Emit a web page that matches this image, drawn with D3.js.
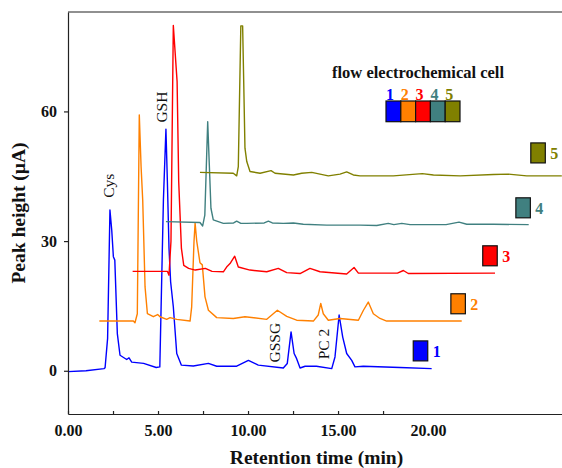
<!DOCTYPE html>
<html>
<head>
<meta charset="utf-8">
<script src="https://cdn.jsdelivr.net/npm/d3@7"></script>
<style>
    html, body { margin: 0; padding: 0; background: #fff; }
    svg { display: block; font-family: "Liberation Serif", "Times New Roman", serif; }
</style>
</head>
<body>
<div id="chart"></div>
<script>
// chromatograms as [retention time (min), peak height (µA)], as plotted (offset per cell)
const cell1 = [[0, -0.2], [1.0, 0.0], [2.0, 0.5], [2.06, 0.7], [2.2, 7.5], [2.33, 37.2], [2.43, 32.5], [2.52, 26.4],
    [2.6, 25.6], [2.74, 8.6], [2.89, 3.6], [3.26, 2.6], [3.39, 3.0], [3.54, 2.0], [4.2, 1.7], [4.9, 0.75], [5.1, 0.9],
    [5.3, 39.5], [5.44, 55.9], [5.52, 43.8], [5.61, 28.4], [5.7, 20.6], [5.85, 14.8], [6.04, 4], [6.3, 1.3], [6.96, 1.1],
    [7.8, 1.7], [8.26, 1.05], [9.37, 1.05], [10.02, 2.4], [10.57, 1.3], [11.96, 0.65], [12.18, 1.7], [12.39, 9.0],
    [12.56, 4.0], [12.7, 2.8], [12.89, 0.65], [13.17, 1.05], [13.8, 1.05], [14.65, 0.5], [14.83, 3.2], [15.06, 12.9],
    [15.26, 7.8], [15.48, 4.0], [15.76, 2.4], [15.94, 0.9], [16.4, 1.05], [18.44, 0.75], [20.2, 0.5]];

const cell2 = [[1.74, 11.5], [3.63, 11.5], [3.72, 11.1], [3.85, 13.2], [3.96, 59.2], [4.06, 47.2], [4.15, 39.5],
    [4.28, 19.4], [4.41, 13.2], [4.74, 12.5], [4.98, 13.0], [5.11, 12.5], [5.48, 11.9], [5.67, 12.3], [6.04, 11.9],
    [6.78, 11.5], [6.87, 14.8], [7.0, 30], [7.06, 34.2], [7.15, 30], [7.33, 25.0], [7.46, 24.5], [7.61, 17.1], [7.8, 14],
    [8.26, 12.3], [9.18, 12.1], [9.83, 12.5], [11.04, 11.9], [11.63, 14.0], [12.15, 12.6], [12.7, 11.7], [13.63, 11.5],
    [13.9, 12.9], [14.04, 15.6], [14.18, 13.2], [14.46, 11.7], [15.11, 12.1], [16.13, 11.7], [16.41, 14.0],
    [16.68, 15.9], [16.96, 13.2], [17.33, 12.1], [17.7, 11.5], [21.87, 11.5]];

const cell3 = [[3.59, 23.0], [5.52, 23.0], [5.61, 22.1], [5.72, 30], [5.85, 79.9], [6.06, 66.9], [6.15, 43.7],
    [6.3, 28.3], [6.43, 24.4], [6.7, 23.7], [7.07, 23.3], [7.63, 23.7], [8.0, 23.0], [8.63, 22.9], [8.81, 24.0],
    [9.0, 24.8], [9.26, 26.5], [9.46, 24.0], [10.11, 23.3], [11.04, 22.9], [11.68, 23.7], [12.15, 22.7], [12.89, 22.5],
    [13.44, 23.7], [14.0, 22.9], [15.48, 22.4], [15.89, 23.9], [16.13, 22.6], [18.3, 22.6], [18.63, 23.2],
    [18.9, 22.5], [23.72, 22.6]];

const cell4 = [[5.44, 34.5], [7.33, 34.3], [7.48, 33.5], [7.6, 36], [7.76, 57.6], [7.85, 47.6], [7.94, 37.6],
    [8.07, 34.9], [8.63, 34.1], [9.2, 34.2], [9.37, 34.6], [9.6, 34.1], [9.93, 34.1], [10.9, 34.2], [11.13, 34.6],
    [11.35, 34.2], [11.96, 34.1], [12.52, 34.2], [13.07, 33.9], [14.37, 33.7], [16.22, 33.7], [17.15, 33.6],
    [17.79, 34.1], [18.1, 33.8], [18.54, 34.1], [19.0, 33.8], [19.93, 33.8], [21.0, 33.8], [21.72, 34.4],
    [22.15, 33.9], [23.63, 33.9], [25.59, 33.8]];

const cell5 = [[7.33, 45.9], [9.18, 45.7], [9.37, 45.1], [9.46, 47.2], [9.6, 79.8], [9.7, 79.8], [9.76, 66.9],
    [9.83, 51.5], [9.93, 48.4], [10.11, 46.1], [10.67, 45.7], [11.28, 46.3], [11.5, 45.7], [12.52, 45.3],
    [12.98, 45.7], [13.54, 45.9], [14.46, 45.1], [15.11, 45.5], [15.48, 46.0], [15.85, 45.3], [16.22, 45.1],
    [18.07, 45.1], [19.68, 45.6], [20.3, 45.3], [21.78, 45.1], [23.63, 45.4], [24.46, 45.5], [25.48, 45.1],
    [27.43, 45.1]];

const cellNames = ["1", "2", "3", "4", "5"];
const cellColors = ["#0000ff", "#ff8000", "#ff0000", "#408080", "#808000"];
// end markers next to each trace (centre time, centre height)
const markerTimes = [19.58, 21.67, 23.44, 25.28, 26.11];
const markerHeights = [4.6, 15.5, 26.6, 37.7, 50.4];

const peakNames = ["Cys", "GSH", "GSSG", "PC 2"];
const peakTimes = [2.28, 5.18, 11.45, 14.18];
const peakHeights = [42.8, 61.0, 6.5, 6.2];

const xTicks = [0, 2.5, 5, 7.5, 10, 12.5, 15, 17.5];
const xLabels = [0, 5, 10, 15, 20];
const yLabels = [0, 30, 60];

document.addEventListener('DOMContentLoaded', function() {
    const width = 562, height = 468;
    const x = d3.scaleLinear().domain([0, 27.44]).range([68, 562]);
    const y = d3.scaleLinear().domain([-10, 83]).range([414, 12]);

    const svg = d3.select("#chart").append("svg")
        .attr("width", width)
        .attr("height", height)
        .attr("viewBox", `0 0 ${width} ${height}`);

    // frame top
    svg.append("line")
        .attr("x1", x(0)).attr("x2", width)
        .attr("y1", y(83)).attr("y2", y(83))
        .attr("stroke", "#222").attr("stroke-width", 1.2);

    const line = d3.line().x(d => x(d[0])).y(d => y(d[1]));
    const traces = [cell1, cell2, cell3, cell4, cell5];

    svg.selectAll("path.trace")
        .data(traces)
        .enter()
        .append("path")
        .attr("class", "trace")
        .attr("fill", "none")
        .attr("stroke", (d, i) => cellColors[i])
        .attr("stroke-width", 1.4)
        .attr("stroke-linejoin", "round")
        .attr("d", line);

    // axes
    const xAxis = svg.append("g")
        .attr("transform", `translate(0,${y(-10)})`)
        .call(d3.axisBottom(x).tickValues(xTicks).tickSizeInner(-3).tickSizeOuter(0).tickFormat(""));
    const xLab = svg.append("g")
        .attr("transform", `translate(0,${y(-10)})`)
        .call(d3.axisBottom(x).tickValues(xLabels).tickSize(0).tickPadding(11).tickFormat(d3.format(".2f")));
    xLab.select(".domain").remove();

    const yAxis = svg.append("g")
        .attr("transform", `translate(${x(0)},0)`)
        .call(d3.axisLeft(y).tickValues(yLabels).tickSizeInner(4).tickSizeOuter(0).tickPadding(7));

    [xAxis, xLab, yAxis].forEach(g => {
        g.selectAll("path, line").attr("stroke", "#222").attr("stroke-width", 1.2);
        g.selectAll("text")
            .attr("font-family", "Liberation Serif, serif")
            .attr("font-size", 16)
            .attr("font-weight", "bold")
            .attr("fill", "#111");
    });

    svg.append("text")
        .attr("x", 316.5).attr("y", 464)
        .attr("text-anchor", "middle")
        .attr("font-size", 19.5).attr("font-weight", "bold").attr("fill", "#111")
        .text("Retention time (min)");

    svg.append("text")
        .attr("transform", "translate(25,213) rotate(-90)")
        .attr("text-anchor", "middle")
        .attr("font-size", 19.5).attr("font-weight", "bold").attr("fill", "#111")
        .text("Peak height (µA)");

    // peak names
    svg.selectAll("text.peak")
        .data(peakNames)
        .enter()
        .append("text")
        .attr("class", "peak")
        .attr("transform", (d, i) => `translate(${x(peakTimes[i])},${y(peakHeights[i])}) rotate(-90)`)
        .attr("dy", "0.35em")
        .attr("text-anchor", "middle")
        .attr("font-size", 15.5)
        .attr("fill", "#111")
        .text(d => d);

    // markers at the end of each trace
    const bw = 14.5, bh = 20;
    const markers = svg.selectAll("g.marker")
        .data(cellNames)
        .enter()
        .append("g")
        .attr("class", "marker")
        .attr("transform", (d, i) => `translate(${x(markerTimes[i])},${y(markerHeights[i])})`);
    markers.append("rect")
        .attr("x", -bw / 2).attr("y", -bh / 2)
        .attr("width", bw).attr("height", bh)
        .attr("fill", (d, i) => cellColors[i])
        .attr("stroke", "#111").attr("stroke-width", 1.2);
    markers.append("text")
        .attr("x", bw / 2 + 5).attr("y", 6)
        .attr("font-size", 16).attr("font-weight", "bold")
        .attr("fill", (d, i) => cellColors[i])
        .text(d => d);

    // legend
    const legend = svg.append("g").attr("transform", "translate(386,0)");
    legend.append("text")
        .attr("x", 32).attr("y", 77.5)
        .attr("text-anchor", "middle")
        .attr("font-size", 16.5).attr("font-weight", "bold").attr("fill", "#111")
        .text("flow electrochemical cell");
    const lw = 14.8;
    legend.selectAll("rect")
        .data(cellNames)
        .enter()
        .append("rect")
        .attr("x", (d, i) => i * lw).attr("y", 101)
        .attr("width", lw).attr("height", 20.7)
        .attr("fill", (d, i) => cellColors[i])
        .attr("stroke", "#111").attr("stroke-width", 1.2);
    legend.selectAll("text.num")
        .data(cellNames)
        .enter()
        .append("text")
        .attr("class", "num")
        .attr("x", (d, i) => i * lw).attr("y", 99.5)
        .attr("font-size", 16).attr("font-weight", "bold")
        .attr("fill", (d, i) => cellColors[i])
        .text(d => d);
});
</script>
</body>
</html>
